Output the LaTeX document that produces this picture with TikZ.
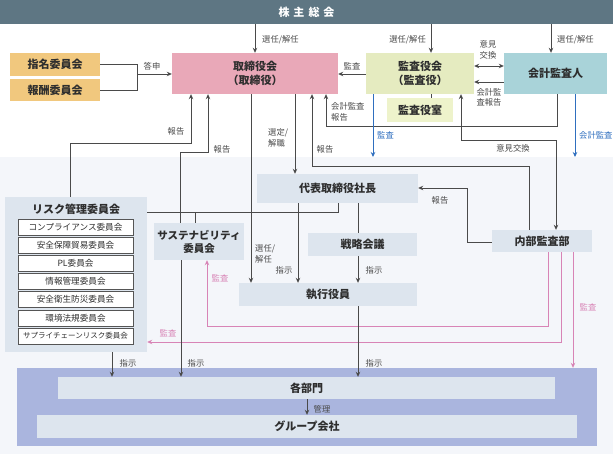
\documentclass[tikz,border=0pt]{standalone}
\usepackage{fontspec}
\setmainfont{Noto Sans CJK JP}
\usetikzlibrary{arrows.meta,calc}
\definecolor{bannerc}{HTML}{5E7683}
\definecolor{lightbg}{HTML}{F4F6FA}
\definecolor{pinkbox}{HTML}{E9A8B8}
\definecolor{kansac}{HTML}{E5EBC0}
\definecolor{kansasc}{HTML}{EEF3CB}
\definecolor{kaikeic}{HTML}{A9D3D9}
\definecolor{orangec}{HTML}{F1C87E}
\definecolor{grayblue}{HTML}{DDE5EE}
\definecolor{outerc}{HTML}{AAB5DE}
\definecolor{txt}{HTML}{2E2E2E}
\definecolor{lbltxt}{HTML}{4A4A4A}
\definecolor{linec}{HTML}{4A4A4A}
\definecolor{pinkc}{HTML}{D884B6}
\definecolor{bluec}{HTML}{2F6FBF}
\definecolor{subdraw}{HTML}{555555}
\begin{document}
\begin{tikzpicture}[x=1pt,y=-1pt,
 box/.style={inner sep=0pt, align=center, text=txt, font=\fontsize{11}{14}\selectfont\bfseries},
 lbl/.style={inner sep=0pt, align=center, text=lbltxt, font=\fontsize{8.3}{10.5}\selectfont},
 ln/.style={draw=linec, line width=0.75pt},
 arr/.style={ln, -{Stealth[length=5pt,width=4.5pt]}},
 dbl/.style={ln, {Stealth[length=5pt,width=4.5pt]}-{Stealth[length=5pt,width=4.5pt]}},
 pinkln/.style={draw=pinkc, line width=0.75pt},
 pinkarr/.style={pinkln, -{Stealth[length=5pt,width=4.5pt]}},
 bluearr/.style={draw=bluec, line width=0.75pt, -{Stealth[length=5pt,width=4.5pt]}},
 subbox/.style={draw=subdraw, fill=white, line width=0.7pt, minimum width=115pt, minimum height=16pt, inner sep=0pt, text=txt, font=\fontsize{8.6}{10}\selectfont},
]
\useasboundingbox (0,0) rectangle (613,454);
\fill[white] (0,0) rectangle (613,454);
\fill[lightbg] (0,157) rectangle (613,454);

% boxes
\node[box, fill=bannerc, text=white, minimum width=613pt, minimum height=24pt] (banner) at (306.5,12) {株\hspace{4pt}主\hspace{4pt}総\hspace{4pt}会};
\node[box, fill=orangec, minimum width=90pt, minimum height=23pt] (shimei) at (55,64.5) {指名委員会};
\node[box, fill=orangec, minimum width=90pt, minimum height=22pt] (houshu) at (55,90) {報酬委員会};
\node[box, fill=pinkbox, minimum width=166pt, minimum height=41pt] (tori) at (255,73.5) {取締役会\\（取締役）};
\node[box, fill=kansac, minimum width=108pt, minimum height=41pt] (kansa) at (420,73.5) {監査役会\\（監査役）};
\node[box, fill=kansasc, minimum width=66pt, minimum height=24pt] (kansashitsu) at (420,110) {監査役室};
\node[box, fill=kaikeic, minimum width=103pt, minimum height=41pt] (kaikei) at (555.5,73.5) {会計監査人};
\node[box, fill=grayblue, minimum width=161pt, minimum height=29pt] (daihyo) at (337.5,188.5) {代表取締役社長};
\node[box, fill=grayblue, minimum width=109pt, minimum height=23pt] (senryaku) at (362.5,244.5) {戦略会議};
\node[box, fill=grayblue, minimum width=178pt, minimum height=23pt] (shikko) at (328,294.5) {執行役員};
\node[box, fill=grayblue, minimum width=90pt, minimum height=37pt, font=\fontsize{10.5}{13}\selectfont\bfseries] (sustain) at (199,241.5) {サステナビリティ\\委員会};
\node[box, fill=grayblue, minimum width=100pt, minimum height=22pt] (naibu) at (542,241) {内部監査部};
\node[fill=grayblue, minimum width=142pt, minimum height=155pt, inner sep=0pt] (risk) at (76,274.5) {};
\node[box, anchor=center] (risktitle) at (76,209) {リスク管理委員会};
\node[subbox] (s1) at (75.5,227) {コンプライアンス委員会};
\node[subbox] (s2) at (75.5,245) {安全保障貿易委員会};
\node[subbox] (s3) at (75.5,263) {PL委員会};
\node[subbox] (s4) at (75.5,281) {情報管理委員会};
\node[subbox] (s5) at (75.5,299.5) {安全衛生防災委員会};
\node[subbox] (s6) at (75.5,318) {環境法規委員会};
\node[subbox, font=\fontsize{7.5}{9}\selectfont] (s7) at (75.5,336) {サプライチェーンリスク委員会};
\node[fill=outerc, minimum width=580pt, minimum height=78pt, inner sep=0pt] (outer) at (307,407) {};
\node[box, fill=grayblue, minimum width=497pt, minimum height=22pt] (kakubu) at (306.5,388) {各部門};
\node[box, fill=grayblue, minimum width=540pt, minimum height=23pt] (group) at (307,426.5) {グループ会社};
\draw[ln] (kansa.south -| 431,0) -- (kansashitsu.north -| 431,0);

% shareholders meeting
\draw[arr] (banner.south -| tori) -- (tori.north);
\node[lbl, anchor=west] (l1) at (262,40) {選任/解任};
\draw[arr] (banner.south -| 431,0) -- (kansa.north -| 431,0);
\node[lbl, anchor=east] (l2) at (426,40) {選任/解任};
\draw[arr] (banner.south -| 551,0) -- (kaikei.north -| 551,0);
\node[lbl, anchor=west] (l3) at (557,40) {選任/解任};

% nomination / remuneration
\coordinate (j) at (137,74);
\draw[ln] (shimei.east) -| (j);
\draw[ln] (houshu.east) -| (j);
\draw[arr] (j) -- (tori.west |- j);
\node[lbl] (l4) at (152,66) {答申};

% audit board
\draw[arr] (kansa.west |- 0,74) -- (tori.east |- 0,74);
\node[lbl] (l5) at (352,66) {監査};
\draw[dbl] (kansa.east |- 0,66) -- (kaikei.west |- 0,66);
\node[lbl] (l6) at (488,50) {意見\\交換};
\draw[arr] (kaikei.west |- 0,82) -- (kansa.east |- 0,82);
\node[lbl] (l7) at (489,97.5) {会計監\\査報告};
\draw[arr] (kaikei.south -| 557,0) -- (557,126) -- (326,126) -- (tori.south -| 326,0);
\node[lbl, anchor=north west, align=left] (l8) at (331,102.5) {会計監査\\報告};
\draw[bluearr] (kansa.south -| 373,0) -- (373,157);
\node[lbl, anchor=west, text=bluec] (l9) at (377,135) {監査};
\draw[bluearr] (kaikei.south -| 575,0) -- (575,157);
\node[lbl, anchor=west, text=bluec] (l10) at (579,135) {会計監査};
\draw[dbl] (kansa.south -| 461,0) -- (461,140) -- (556,140) -- (naibu.north -| 556,0);
\node[lbl] (l11) at (513,148) {意見交換};

% reports to board
\draw[arr] (naibu.north -| 529,0) -- (529,166) -- (312,166) -- (tori.south -| 312,0);
\node[lbl] (l12) at (325,149) {報告};
\draw[arr] (risk.north -| 70,0) -- (70,143) -- (191,143) -- (tori.south -| 191,0);
\node[lbl] (l13) at (176,131) {報告};
\draw[arr] (sustain.north -| 180,0) -- (180,152) -- (208,152) -- (tori.south -| 208,0);
\node[lbl] (l14) at (222,149) {報告};
\draw[arr] (tori.south -| 295,0) -- (daihyo.north -| 295,0);
\node[lbl, anchor=north west, align=left] (l15) at (268,128.5) {選定/\\解職};
\draw[arr] (tori.south -| 251,0) -- (shikko.north -| 251,0);
\node[lbl, anchor=north west, align=left] (l16) at (255,244.5) {選任/\\解任};

% president
\draw[ln] (daihyo.south -| 338,0) -- (338,212) -- (risk.east |- 0,212);
\draw[ln] (sustain.north -| 195,0) -- (195,212);
\draw[arr] (daihyo.south -| 298,0) -- (shikko.north -| 298,0);
\node[lbl] (l17) at (284,270) {指示};
\draw[ln] (daihyo.south -| 358,0) -- (senryaku.north -| 358,0);
\draw[arr] (senryaku.south -| 358,0) -- (shikko.north -| 358,0);
\node[lbl] (l18) at (374,270) {指示};
\draw[arr] (naibu.west |- 0,242) -- (467,242) -- (467,188) -- (daihyo.east |- 0,188);
\node[lbl] (l19) at (440,200) {報告};

% internal audit (pink)
\draw[pinkarr] (naibu.south -| 548,0) -- (548,326) -- (207,326) -- (sustain.south -| 207,0);
\node[lbl, text=pinkc] (l20) at (220,278) {監査};
\draw[pinkarr] (naibu.south -| 561,0) -- (561,342) -- (risk.east |- 0,342);
\node[lbl, text=pinkc] (l21) at (168,333) {監査};
\draw[pinkarr] (naibu.south -| 573,0) -- (outer.north -| 573,0);
\node[lbl, text=pinkc] (l22) at (588,307) {監査};

% instructions to departments
\draw[arr] (risk.south -| 112,0) -- (kakubu.north -| 112,0);
\node[lbl] (l23) at (128,363) {指示};
\draw[arr] (sustain.south -| 181,0) -- (kakubu.north -| 181,0);
\node[lbl] (l24) at (196,363) {指示};
\draw[arr] (shikko.south -| 358,0) -- (kakubu.north -| 358,0);
\node[lbl] (l25) at (374,363) {指示};
\draw[arr] (kakubu.south -| 307,0) -- (group.north -| 307,0);
\node[lbl] (l26) at (322,409) {管理};
\end{tikzpicture}
\end{document}
